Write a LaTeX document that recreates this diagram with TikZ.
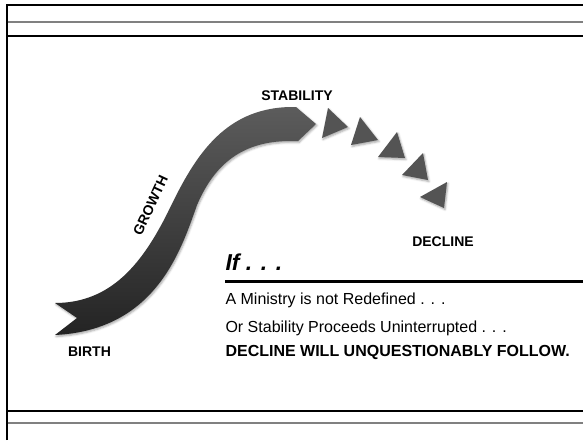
\documentclass[tikz,border=0pt]{standalone}
\usepackage{fontspec}
\setmainfont{Liberation Sans}
\usetikzlibrary{shadows.blur}
\begin{document}
\begin{tikzpicture}[x=1pt,y=-1pt,
    lbl/.style={font=\bfseries\fontsize{14}{16}\selectfont},
    txt/.style={anchor=west,font=\fontsize{16}{18}\selectfont},
    rule/.style={line width=2pt},
    grayrule/.style={line width=1.5pt,gray},
    soft/.style={blur shadow={shadow xshift=1pt,shadow yshift=-1.5pt,shadow blur radius=2pt,shadow opacity=35}}]
  \useasboundingbox (0,0) rectangle (583,440);
  % frame
  \draw[rule] (6.5,440) -- (6.5,5) -- (583,5);
  \draw[grayrule] (7.5,22) -- (583,22);
  \draw[rule] (7.5,36) -- (583,36);
  \draw[rule] (7.5,411) -- (583,411);
  \draw[grayrule] (7.5,423) -- (583,423);
  % ribbon
  \shade[soft, top color=black!64, bottom color=black!86]
    (55,303) .. controls (112,303) and (143,262) .. (168,212)
    .. controls (193,160) and (222,108) .. (291,107)
    -- (296,107) -- (316,124) -- (298,141) -- (290,141)
    .. controls (237,141) and (212,170) .. (197,205)
    .. controls (181,250) and (156,330) .. (55,335)
    -- (77,318) -- cycle;
  % decline
  \foreach \ax/\ay/\bx/\by/\cx/\cy in {328/108/348/127/322/138,
      360/117/378/140/351/145, 397/132/405/158/378/157,
      423/153/428/180/402/175, 447/182/444/208/420/197}
    \fill[soft, black!67] (\ax,\ay) -- (\bx,\by) -- (\cx,\cy) -- cycle;
  \node[lbl] (stab) at (297,96) {STABILITY};
  \node[lbl, rotate=65] (grow) at (150.5,205.5) {GROWTH};
  \node[lbl] (decl) at (443,242) {DECLINE};
  \node[lbl] (birth) at (89.5,352) {BIRTH};
  \node[anchor=west, font=\bfseries\itshape\fontsize{23}{26}\selectfont] (if) at (222,262) {If . . .};
  \coordinate (rs) at (225,281.5);
  \coordinate (re) at (583,281.5);
  \draw[line width=3pt] (rs) -- (re);
  \node[txt] (t1) at (222,300) {A Ministry is not Redefined . . .};
  \node[txt] (t2) at (222,328) {Or Stability Proceeds Uninterrupted . . .};
  \node[txt, font=\bfseries\fontsize{16}{18}\selectfont] (t3) at (222,352) {DECLINE WILL UNQUESTIONABLY FOLLOW.};
\end{tikzpicture}
\end{document}
